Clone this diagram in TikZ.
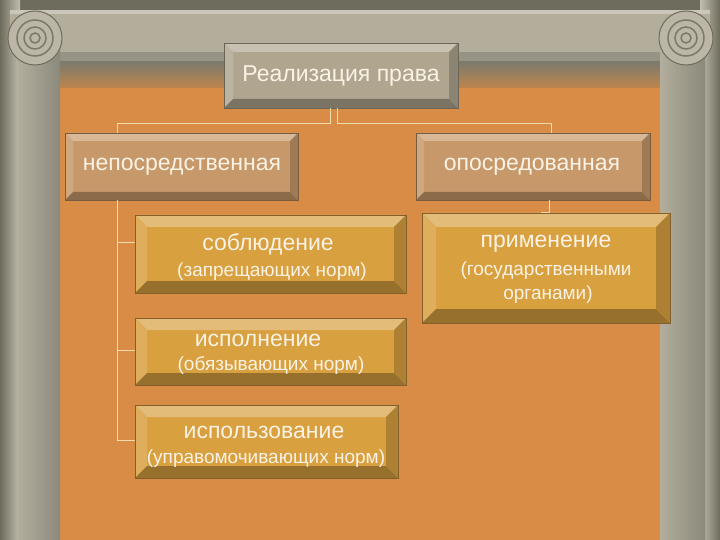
\documentclass[tikz,border=0pt]{standalone}
\usepackage{fontspec}
\setmainfont{Liberation Sans}
\definecolor{orng}{HTML}{D98C45}
\definecolor{stone}{HTML}{B3AE9C}
\definecolor{dark}{HTML}{6E6C5C}
\definecolor{tan}{HTML}{C7996A}
\definecolor{gold}{HTML}{D9A040}
\definecolor{greyb}{HTML}{B0A690}
\definecolor{txt}{HTML}{FAF2E4}
\definecolor{lin}{HTML}{F2DCAE}
\tikzset{lbl/.style={text=txt,align=center,inner sep=0pt,font=\fontsize{23}{26}\selectfont},
 sub/.style={text=txt,align=center,inner sep=0pt,font=\fontsize{19}{22}\selectfont},
 conn/.style={draw=lin,line width=0.8pt}}
\newcommand{\bevel}[7]{%
 \fill[#6] (#2,#3) rectangle (#4,#5);
 \fill[#6!70!white] (#2,#3) -- (#4,#3) -- (#4-#7,#3+#7) -- (#2+#7,#3+#7) -- cycle;
 \fill[#6!85!white] (#2,#3) -- (#2+#7,#3+#7) -- (#2+#7,#5-#7) -- (#2,#5) -- cycle;
 \fill[#6!70!black] (#2,#5) -- (#2+#7,#5-#7) -- (#4-#7,#5-#7) -- (#4,#5) -- cycle;
 \fill[#6!80!black] (#4,#3) -- (#4,#5) -- (#4-#7,#5-#7) -- (#4-#7,#3+#7) -- cycle;
 \draw[#6!60!black,line width=0.6pt] (#2,#3) rectangle (#4,#5);
 \node (#1) at ({(#2+#4)/2},{(#3+#5)/2}) [minimum width={#4-#2},minimum height={#5-#3}] {};}
\begin{document}
\begin{tikzpicture}[x=1pt,y=-1pt]
\useasboundingbox (0,0) rectangle (720,540);
\fill[dark] (0,0) rectangle (720,540);
\shade[left color=dark,right color=stone!80!white] (0,0) rectangle (20,540);
\shade[left color=stone!80!white,right color=dark] (700,0) rectangle (720,540);
\fill[stone] (10,10) rectangle (710,52);
\fill[stone!70!white] (10,10) rectangle (710,14);
\fill[stone!85!black] (55,52) rectangle (665,66);
\foreach \i in {0,...,30} {\fill[stone!90!white] (62+\i*19.5,66) arc (180:0:7 and 10) -- cycle;}
\shade[top color=dark!90!white,bottom color=orng!80!dark] (55,62) rectangle (665,90);
\fill[orng] (60,88) rectangle (660,540);
\shade[left color=stone,right color=dark!80!white] (18,40) rectangle (60,540);
\shade[left color=stone,right color=dark!80!white] (660,40) rectangle (705,540);
\foreach \cx in {35,686} {
 \fill[stone!90!white] (\cx,38) circle (27);
 \draw[dark,line width=1pt] (\cx,38) circle (27);
 \draw[dark!80!stone,line width=1.5pt] (\cx,38) circle (18);
 \draw[dark!80!stone,line width=1.5pt] (\cx,38) circle (11);
 \draw[dark!80!stone,line width=1.5pt] (\cx,38) circle (5);
}
\bevel{root}{224}{43}{458}{108}{greyb}{9}
\bevel{direct}{65}{133}{298}{200}{tan}{8}
\bevel{indirect}{416}{133}{650}{200}{tan}{8}
\bevel{obs}{135}{215}{406}{293}{gold}{12}
\bevel{isp}{135}{318}{406}{385}{gold}{12}
\bevel{use}{135}{405}{398}{478}{gold}{12}
\bevel{prim}{422}{213}{670}{323}{gold}{14}
\node[lbl] at (341,76) {Реализация права};
\node[lbl] at (182,167) {непосредственная};
\node[lbl] at (532,167) {опосредованная};
\node[lbl] at (268,244) {соблюдение};
\node[sub] at (272,272) {(запрещающих норм)};
\node[lbl] at (258,340) {исполнение};
\node[sub] at (271,366) {(обязывающих норм)};
\node[lbl] at (264,432) {использование};
\node[sub] at (266,459) {(управомочивающих норм)};
\node[lbl] at (546,244) {применение};
\node[sub] at (546,271) {(государственными};
\node[sub] at (548,295) {органами)};
\draw[conn] (root.south -| 330,0) |- (117,123) -- (direct.north -| 117,0);
\draw[conn] (root.south -| 337,0) |- (551,123) -- (indirect.north -| 551,0);
\draw[conn] (direct.south -| 117,0) |- (obs.west |- 0,242);
\draw[conn] (117,242) |- (isp.west |- 0,350);
\draw[conn] (117,350) |- (use.west |- 0,440);
\draw[conn] (indirect.south -| 549,0) |- (prim.north -| 541,0);
\end{tikzpicture}
\end{document}
